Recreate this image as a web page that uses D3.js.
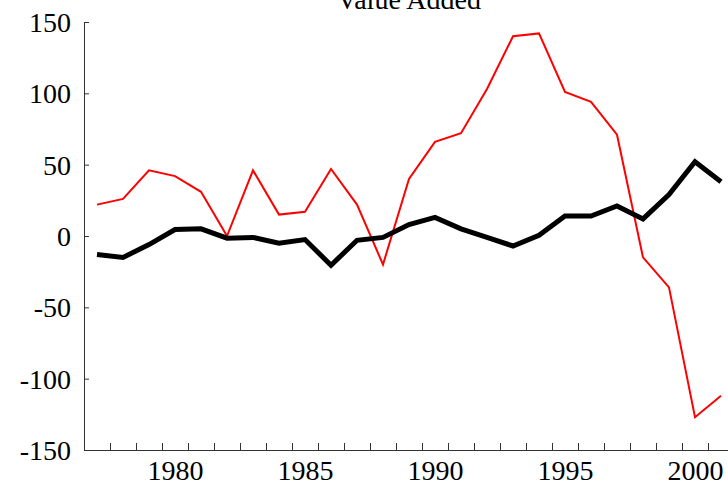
<!DOCTYPE html>
<html>
<head>
<meta charset="utf-8">
<script src="https://cdn.jsdelivr.net/npm/d3@7"></script>
<style>
  html, body { margin: 0; padding: 0; background: #fff; overflow: hidden; }
  svg { display: block; font-family: "Liberation Serif", "DejaVu Serif", serif; }
  .axis path, .axis line { stroke: #333; }
  .axis text { fill: #000; font-size: 28px; font-family: "Liberation Serif", serif; }
</style>
</head>
<body>
<svg id="canvas" width="728" height="484"></svg>
<script>
// data
const years = [1977, 1978, 1979, 1980, 1981, 1982, 1983, 1984, 1985, 1986, 1987, 1988, 1989,
    1990, 1991, 1992, 1993, 1994, 1995, 1996, 1997, 1998, 1999, 2000, 2001];
const redSeries = [22, 26, 46, 42, 31, 0, 46, 15, 17, 47, 22, -20, 40,
    66, 72, 103, 140, 142, 101, 94, 71, -15, -36, -127, -112];
const blackSeries = [-13, -15, -6, 4.5, 5, -1.5, -1, -5, -2.5, -20.5, -3, -1, 8,
    13, 5, -1, -7, 0.5, 14, 14, 21, 12, 29, 52, 38];
const xLabels = [1980, 1985, 1990, 1995, 2000];
const yTicks = [-150, -100, -50, 0, 50, 100, 150];
const title = 'Value Added';

const svg = d3.select('#canvas');
const margin = { left: 84, top: 22, bottom: 34 };
const height = 484;

// one category per year, axis runs from boundary to boundary
const x = d3.scaleLinear()
    .domain([years[0] - 0.5, years[years.length - 1] + 0.5])
    .range([margin.left, 734]);
const y = d3.scaleLinear()
    .domain([-150, 150])
    .range([height - margin.bottom, margin.top]);

const boundaries = years.map(d => d - 0.5).concat([years[years.length - 1] + 0.5]);

// x axis: ticks at the year boundaries, labels on their own
svg.append('g')
    .attr('class', 'axis')
    .attr('transform', `translate(0,${y(-150)})`)
    .call(d3.axisBottom(x).tickValues(boundaries).tickSize(-7).tickSizeOuter(0).tickFormat(''));

svg.append('g')
    .attr('class', 'axis')
    .attr('transform', `translate(0,${y(-150)})`)
    .call(d3.axisBottom(x).tickValues(xLabels).tickSize(0).tickPadding(10).tickFormat(d => String(d)))
    .call(g => g.select('.domain').remove());

// y axis (plain hyphen for negatives, like the original)
svg.append('g')
    .attr('class', 'axis')
    .attr('transform', `translate(${margin.left},0)`)
    .call(d3.axisLeft(y).tickValues(yTicks).tickSize(-5).tickSizeOuter(0).tickPadding(13)
        .tickFormat(d => String(d)))
    .call(g => g.selectAll('text').attr('dy', '0.34em'));

const line = d3.line()
    .x((d, i) => x(years[i]))
    .y(d => y(d));

svg.append('path')
    .datum(redSeries)
    .attr('fill', 'none')
    .attr('stroke', '#ff0000')
    .attr('stroke-width', 2)
    .attr('d', line);

svg.append('path')
    .datum(blackSeries)
    .attr('fill', 'none')
    .attr('stroke', '#000')
    .attr('stroke-width', 5)
    .attr('d', line);

// title, mostly cut off at the top as in the original
svg.append('text')
    .attr('x', (x.range()[0] + x.range()[1]) / 2)
    .attr('y', 9)
    .attr('text-anchor', 'middle')
    .style('font-size', '28px')
    .text(title);
</script>
</body>
</html>
